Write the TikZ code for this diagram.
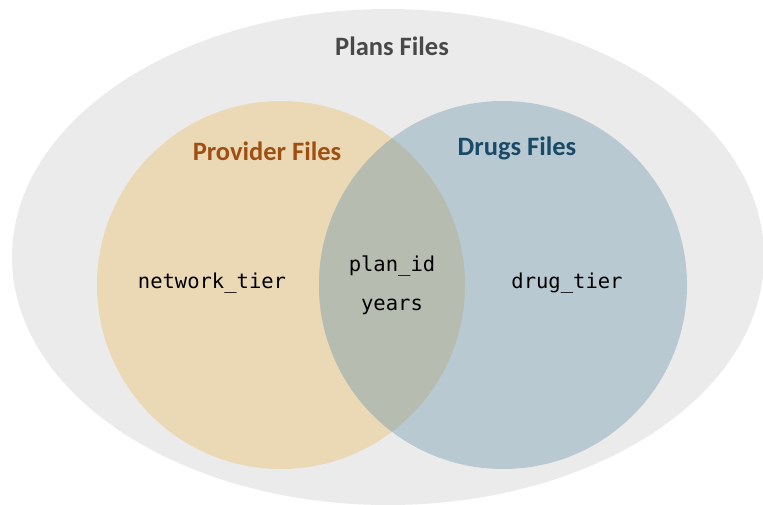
\documentclass[tikz,border=0pt]{standalone}
\usepackage{fontspec}
\setmainfont{Carlito}
\setmonofont{DejaVu Sans Mono}
\definecolor{plansgray}{RGB}{235,235,235}
\definecolor{provfill}{RGB}{235,216,180}
\definecolor{drugfill}{RGB}{185,201,209}
\definecolor{bothfill}{RGB}{182,189,176}
\definecolor{provtext}{RGB}{158,80,20}
\definecolor{drugtext}{RGB}{25,75,105}
\definecolor{planstext}{RGB}{72,72,72}

\begin{document}
\begin{tikzpicture}[x=1pt,y=-1pt,
  title/.style={font=\fontsize{26.5}{32}\selectfont\bfseries},
  field/.style={font=\fontsize{20.5}{25}\selectfont\ttfamily, text=black}]
\useasboundingbox (0,0) rectangle (763,504);
\coordinate (P) at (388,257);
\coordinate (L) at (281,285);
\coordinate (R) at (503,285);

\fill[plansgray] (P) ellipse (376 and 248);
\fill[provfill] (L) circle (184);
\fill[drugfill] (R) circle (184);
\begin{scope}
\clip (L) circle (184);
\fill[bothfill] (R) circle (184);
\end{scope}

\node[title, text=planstext] (plans) at (392,46) {Plans Files};
\node[title, text=provtext] (provider) at (267,151) {Provider Files};
\node[title, text=drugtext] (drugs) at (517,148) {Drugs Files};

\node[field] (network) at (212,283) {network\_tier};
\node[field] (planid) at (392,266) {plan\_id};
\node[field] (years) at (392,307) {years};
\node[field] (drugtier) at (567,283) {drug\_tier};

\end{tikzpicture}
\end{document}
